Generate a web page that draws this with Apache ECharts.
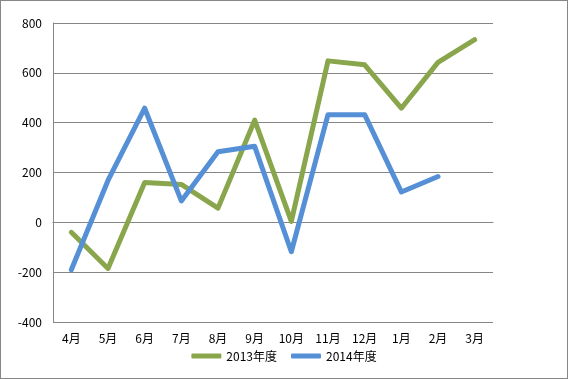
<!DOCTYPE html>
<html><head><meta charset="utf-8">
<script src="https://cdn.jsdelivr.net/npm/echarts@6/dist/echarts.min.js"></script>
<style>html,body{margin:0;padding:0;background:#fff}#c{width:568px;height:379px;box-sizing:border-box;border:1px solid #878787}</style>
</head><body><div id="c"></div>
<script>
const categories = ['4月','5月','6月','7月','8月','9月','10月','11月','12月','1月','2月','3月'];
const fy2013 = [-40, -185, 160, 152, 57, 410, 4, 648, 632, 458, 642, 733];
const fy2014 = [-190, 168, 458, 86, 283, 305, -118, 432, 432, 122, 184, null];
const yTicks = {min: -400, max: 800, interval: 200};
const seriesNames = ['2013年度', '2014年度'];

const font = '"Noto Sans CJK JP", "Noto Sans", sans-serif';
const chart = echarts.init(document.getElementById('c'), null, {renderer: 'canvas'});
chart.setOption({
  animation: false,
  grid: {left: 52, right: 74, top: 22, bottom: 56},
  legend: {
    bottom: 11, left: 'center',
    data: seriesNames,
    icon: 'roundRect', itemWidth: 30, itemHeight: 5, itemGap: 14,
    textStyle: {fontFamily: font, fontSize: 12, color: '#000'}
  },
  xAxis: {
    type: 'category', data: categories, boundaryGap: true,
    axisLine: {show: true, lineStyle: {color: '#868686', width: 1}},
    axisTick: {show: false},
    axisLabel: {fontFamily: font, fontSize: 12, color: '#000', margin: 10, interval: 0},
    splitLine: {show: false}
  },
  yAxis: {
    type: 'value', min: yTicks.min, max: yTicks.max, interval: yTicks.interval,
    axisLine: {show: true, lineStyle: {color: '#868686', width: 1}},
    axisTick: {show: false},
    axisLabel: {fontFamily: font, fontSize: 12, color: '#000', margin: 11},
    splitLine: {show: true, lineStyle: {color: '#868686', width: 1}}
  },
  series: [
    {name: seriesNames[0], type: 'line', data: fy2013, symbol: 'none',
     lineStyle: {color: '#8aa64c', width: 5, join: 'round', cap: 'round'}, itemStyle: {color: '#8aa64c'}},
    {name: seriesNames[1], type: 'line', data: fy2014, symbol: 'none',
     lineStyle: {color: '#5590d6', width: 5, join: 'round', cap: 'round'}, itemStyle: {color: '#5590d6'}}
  ]
});
</script></body></html>
